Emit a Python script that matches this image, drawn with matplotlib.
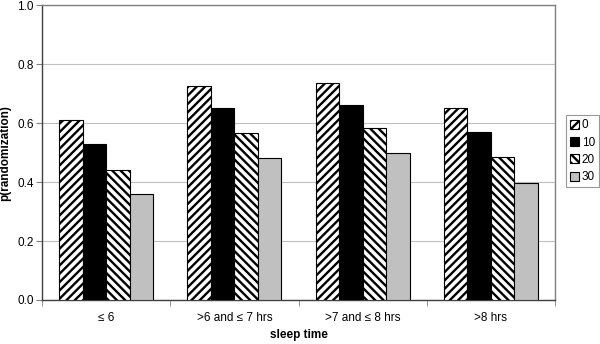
import matplotlib
matplotlib.use("Agg")
import matplotlib.pyplot as plt
import numpy as np

categories = ["\u2264 6", ">6 and \u2264 7 hrs", ">7 and \u2264 8 hrs", ">8 hrs"]
series_names = ["0", "10", "20", "30"]
v0 = [0.612, 0.725, 0.735, 0.651]
v10 = [0.528, 0.651, 0.663, 0.569]
v20 = [0.441, 0.567, 0.582, 0.484]
v30 = [0.358, 0.481, 0.497, 0.398]
values = [v0, v10, v20, v30]

plt.rcParams['font.family'] = ['Liberation Sans', 'DejaVu Sans']
plt.rcParams['hatch.linewidth'] = 1.7

fig = plt.figure(figsize=(6, 3.44), dpi=100)
ax = fig.add_axes([0.07, 0.128, 0.855, 0.857])

styles = [
    dict(facecolor='white', hatch='////'),
    dict(facecolor='black', hatch=None),
    dict(facecolor='white', hatch='\\\\\\\\'),
    dict(facecolor='#c0c0c0', hatch=None),
]

x = np.arange(len(categories))
w = 0.183
for i, (vals, st) in enumerate(zip(values, styles)):
    ax.bar(x + (i - 1.5) * w, vals, w, label=series_names[i], edgecolor='black',
           linewidth=0.8, zorder=3, **st)

ax.set_xlim(-0.5, len(categories) - 0.5)
ax.set_ylim(0, 1.0)
ax.set_yticks(np.arange(0, 1.01, 0.2))
ax.set_yticklabels([f"{t:.1f}" for t in np.arange(0, 1.01, 0.2)], fontsize=8.5)
ax.set_xticks(x)
ax.set_xticklabels(categories, fontsize=8.5)
ax.tick_params(axis='x', length=0, pad=9)
ax.set_xticks(np.arange(-0.5, len(categories), 1), minor=True)
ax.tick_params(axis='x', which='minor', length=4, color='#808080')
ax.tick_params(axis='y', length=4, color='#808080', pad=2)
ax.yaxis.grid(True, color='#c0c0c0', linewidth=0.8, zorder=0)
ax.set_axisbelow(True)
for s in ['top', 'right']:
    ax.spines[s].set_color('#808080')
for s in ['left', 'bottom']:
    ax.spines[s].set_color('#404040')
for s in ax.spines.values():
    s.set_linewidth(1.0)

ax.set_ylabel("p(randomization)", fontsize=8.5, fontweight='bold', labelpad=4)
ax.set_xlabel("sleep time", fontsize=8.5, fontweight='bold', labelpad=3)

leg = ax.legend(loc='upper left', bbox_to_anchor=(0.943, 0.665), bbox_transform=fig.transFigure,
                fontsize=8.5, frameon=True, fancybox=False, handlelength=0.8, handleheight=0.8,
                handletextpad=0.2, borderpad=0.35, labelspacing=0.45, borderaxespad=0)
leg.get_frame().set_edgecolor('#808080')
leg.get_frame().set_linewidth(0.8)

fig.savefig("out.png", dpi=100)
